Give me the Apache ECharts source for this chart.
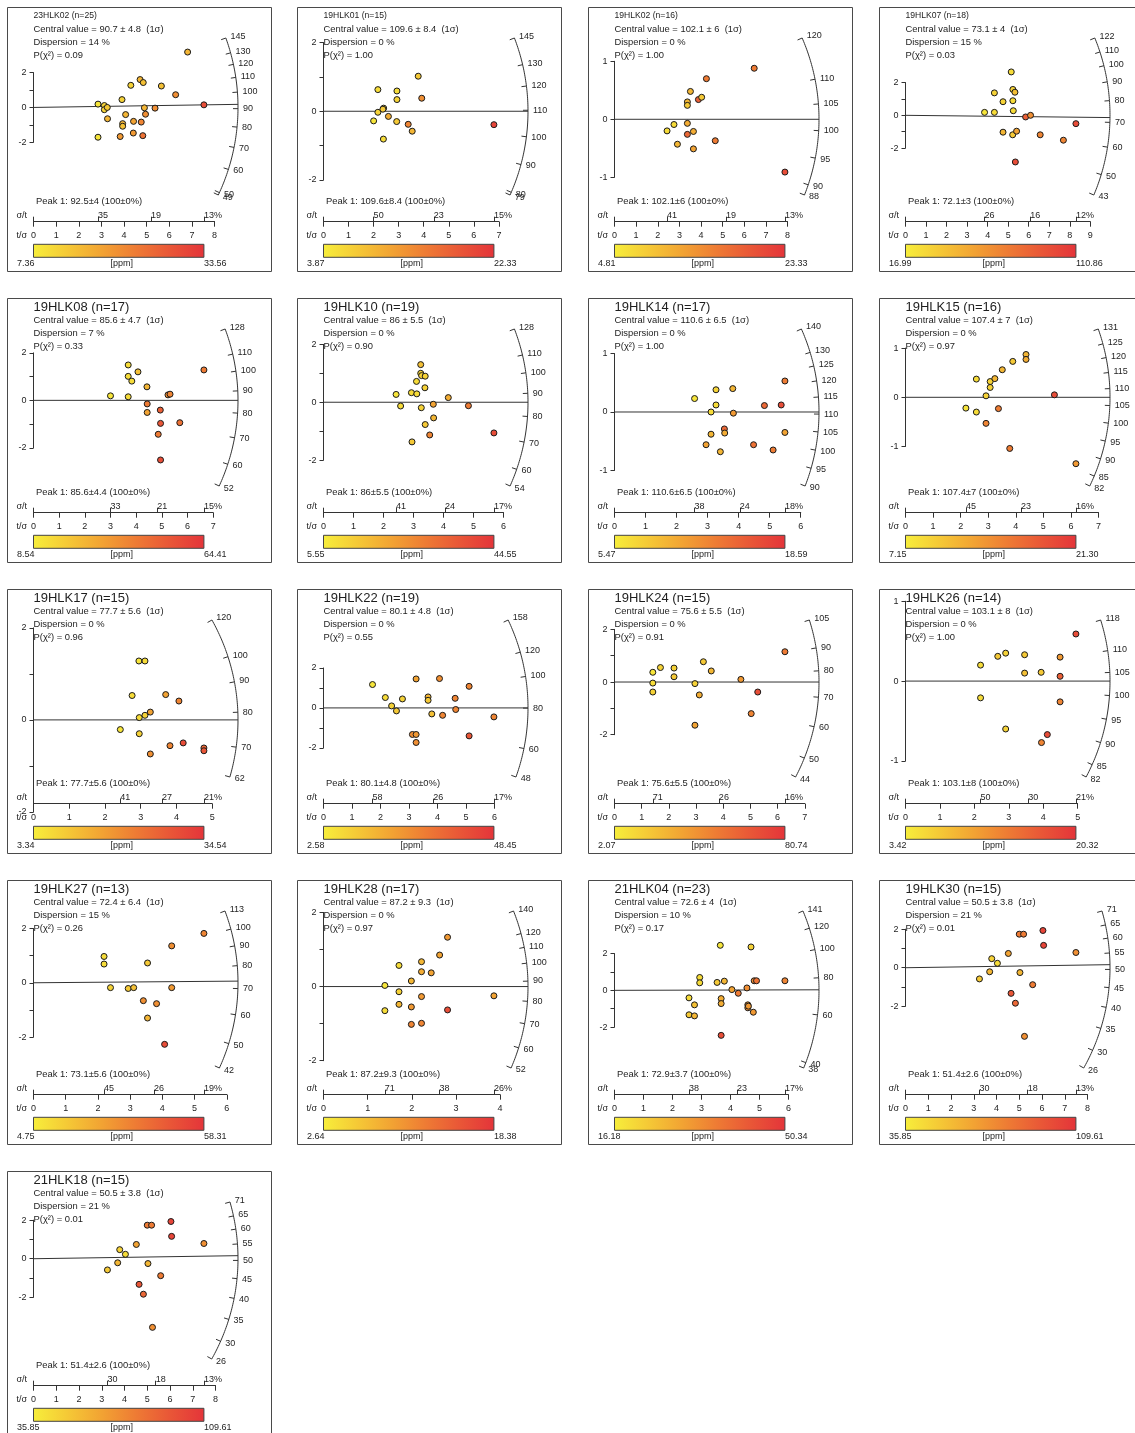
<!DOCTYPE html>
<html>
<head>
<meta charset="utf-8">
<script src="https://cdn.jsdelivr.net/npm/echarts@6/dist/echarts.min.js"></script>
<style>
html,body{margin:0;padding:0;background:#fff;}
#main{width:1135px;height:1433px;}
</style>
</head>
<body>
<div id="main"></div>
<script>
// ---- sample summaries (radial plots of single-grain ages) ----
const sampleNames = ['23HLK02','19HLK01','19HLK02','19HLK07','19HLK08','19HLK10','19HLK14','19HLK15',
  '19HLK17','19HLK22','19HLK24','19HLK26','19HLK27','19HLK28','21HLK04','19HLK30','21HLK18'];
const centralValues = [90.7,109.6,102.1,73.1,85.6,86,110.6,107.4,77.7,80.1,75.6,103.1,72.4,87.2,72.6,50.5,50.5];
const centralErrors = [4.8,8.4,6,4,4.7,5.5,6.5,7,5.6,4.8,5.5,8,6.4,9.3,4,3.8,3.8];
const dispersions = [14,0,0,15,7,0,0,0,0,0,0,0,15,0,10,21,21];
const pChi2 = ['0.09','1.00','1.00','0.03','0.33','0.90','1.00','0.97','0.96','0.55','0.91','1.00','0.26','0.97','0.17','0.01','0.01'];
const peakValues = [92.5,109.6,102.1,72.1,85.6,86,110.6,107.4,77.7,80.1,75.6,103.1,73.1,87.2,72.9,51.4,51.4];
const peakErrors = [4,8.4,6,3,4.4,5.5,6.5,7,5.6,4.8,5.5,8,5.6,9.3,3.7,2.6,2.6];

// age scale labels along the radial arc (first = upper end, last = lower end)
const arcTicks = [
  [145,130,120,110,100,90,80,70,60,50,49],
  [145,130,120,110,100,90,80,79],
  [120,110,105,100,95,90,88],
  [122,110,100,90,80,70,60,50,43],
  [128,110,100,90,80,70,60,52],
  [128,110,100,90,80,70,60,54],
  [140,130,125,120,115,110,105,100,95,90],
  [131,125,120,115,110,105,100,95,90,85,82],
  [120,100,90,80,70,62],
  [158,120,100,80,60,48],
  [105,90,80,70,60,50,44],
  [118,110,105,100,95,90,85,82],
  [113,100,90,80,70,60,50,42],
  [140,120,110,100,90,80,70,60,52],
  [141,120,100,80,60,40,38],
  [71,65,60,55,50,45,40,35,30,26],
  [71,65,60,55,50,45,40,35,30,26]
];
// relative error (%) labels at the lowest, middle and highest precision
const sigmaTickLabels = [
  ['35','19','13'],['50','23','15'],['41','19','13'],['26','16','12'],
  ['33','21','15'],['41','24','17'],['38','24','18'],['45','23','16'],
  ['41','27','21'],['58','26','17'],['71','26','16'],['50','30','21'],
  ['45','26','19'],['71','38','26'],['38','23','17'],['30','18','13'],['30','18','13']
];
const yAxisLimits = [2,2,1,2,2,2,1,1,2,2,2,1,2,2,2,2,2];
const ppmMin = ['7.36','3.87','4.81','16.99','8.54','5.55','5.47','7.15','3.34','2.58','2.07','3.42','4.75','2.64','16.18','35.85','35.85'];
const ppmMax = ['33.56','22.33','23.33','110.86','64.41','44.55','18.59','21.30','34.54','48.45','80.74','20.32','58.31','18.38','50.34','109.61','109.61'];

// grains: [t/sigma, standardised estimate, U (ppm)]
const grains23HLK02 = [[2.85,0.19,8.7],[2.85,-1.71,8.7],[3.13,0.11,11.3],[3.13,-0.13,11.3],[3.26,0.0,12.6],[3.27,-0.65,15.2],[3.91,0.45,11.3],[3.94,-0.93,15.2],[3.94,-1.08,13.9],[3.83,-1.67,19.2],[4.07,-0.41,15.2],[4.30,1.27,11.3],[4.42,-0.80,17.8],[4.41,-1.47,19.2],[4.71,1.60,15.2],[4.85,1.43,13.9],[4.76,-0.84,21.8],[4.83,-1.62,24.4],[4.90,-0.02,15.2],[4.95,-0.39,20.5],[5.37,-0.04,20.5],[5.65,1.23,13.9],[6.28,0.73,20.5],[6.81,3.18,15.2],[7.53,0.15,29.6]];
const grains19HLK01 = [[2.0,-0.28,4.8],[2.17,0.63,5.7],[2.17,-0.03,6.6],[2.40,0.09,6.6],[2.37,0.06,7.6],[2.39,-0.81,5.7],[2.59,-0.15,10.3],[2.93,0.59,5.7],[2.93,0.34,6.6],[2.92,-0.30,7.6],[3.38,-0.38,14.0],[3.54,-0.58,9.4],[3.78,1.02,7.6],[3.92,0.38,13.1],[6.80,-0.39,20.5]];
const grains19HLK02 = [[2.43,-0.20,6.7],[2.75,-0.09,6.7],[2.91,-0.43,10.4],[3.37,-0.07,11.3],[3.37,0.30,10.4],[3.37,0.24,8.5],[3.51,0.48,10.4],[3.37,-0.26,17.8],[3.65,-0.21,11.3],[3.65,-0.51,12.2],[3.88,0.34,18.7],[4.03,0.38,8.5],[4.25,0.70,15.9],[4.66,-0.37,15.9],[6.46,0.88,15.9],[7.88,-0.91,20.6]];
const grains19HLK07 = [[3.85,0.18,21.7],[4.33,0.18,26.4],[4.33,1.37,31.1],[4.75,0.83,31.1],[4.75,-1.03,45.2],[5.15,2.65,26.4],[5.23,1.58,31.1],[5.33,1.41,40.5],[5.23,0.89,26.4],[5.25,0.28,26.4],[5.22,-1.19,35.8],[5.41,-0.97,54.5],[5.35,-2.85,96.8],[5.85,-0.10,87.4],[6.09,0.0,63.9],[6.56,-1.19,68.6],[7.69,-1.52,68.6],[8.30,-0.51,96.8]];
const grains19HLK08 = [[3.0,0.19,11.3],[3.69,1.49,14.1],[3.69,1.01,14.1],[3.83,0.81,14.1],[3.69,0.15,14.1],[4.07,1.20,22.5],[4.42,0.57,25.3],[4.43,-0.15,42.1],[4.43,-0.51,30.9],[4.94,-0.41,50.4],[4.95,-0.97,53.2],[4.86,-1.43,42.1],[4.95,-2.51,56.0],[5.24,0.23,36.5],[5.32,0.26,39.3],[5.70,-0.94,44.9],[6.64,1.28,42.1]];
const grains19HLK10 = [[2.42,0.27,7.5],[2.57,-0.13,9.5],[2.93,0.33,9.5],[2.95,-1.37,13.4],[3.10,0.72,9.5],[3.11,0.29,9.5],[3.24,1.30,15.3],[3.24,1.00,11.4],[3.27,0.92,11.4],[3.39,0.90,11.4],[3.26,-0.19,11.4],[3.38,0.50,11.4],[3.39,-0.77,13.4],[3.54,-1.13,27.0],[3.66,-0.07,21.2],[3.67,-0.54,17.3],[4.16,0.16,19.2],[4.83,-0.12,29.0],[5.68,-1.06,38.7]];
const grains19HLK14 = [[2.58,0.23,6.1],[2.95,-0.56,10.7],[3.11,-0.38,9.4],[3.11,0.00,6.8],[3.27,0.38,7.4],[3.27,0.12,6.8],[3.41,-0.68,9.4],[3.54,-0.29,14.7],[3.55,-0.36,10.1],[3.81,0.40,9.4],[3.83,-0.02,11.4],[4.48,-0.56,14.0],[4.83,0.11,14.7],[5.11,-0.65,13.3],[5.37,0.12,16.6],[5.49,0.53,13.3],[5.49,-0.35,10.7]];
const grains19HLK15 = [[2.19,-0.22,7.9],[2.57,0.37,8.6],[2.57,-0.30,8.6],[2.92,0.03,9.3],[2.92,-0.53,14.9],[3.07,0.32,9.3],[3.07,0.20,9.3],[3.24,0.38,11.4],[3.37,-0.23,15.6],[3.51,0.56,11.4],[3.78,-1.04,15.6],[3.89,0.73,10.0],[4.37,0.87,11.4],[4.37,0.77,12.1],[5.40,0.05,19.2],[6.18,-1.35,13.5]];
const grains19HLK17 = [[2.43,-0.21,4.9],[2.76,0.53,6.5],[2.95,1.28,4.9],[3.12,1.28,6.5],[2.96,0.05,6.5],[2.96,-0.30,8.0],[3.12,0.10,8.0],[3.27,0.17,15.8],[3.27,-0.74,18.9],[3.70,0.55,15.8],[3.82,-0.56,20.5],[4.07,0.41,20.5],[4.19,-0.50,29.9],[4.77,-0.61,25.2],[4.77,-0.67,28.3]];
const grains19HLK22 = [[1.72,1.17,4.9],[2.17,0.52,7.2],[2.39,0.10,9.5],[2.56,-0.15,11.8],[2.77,0.45,9.5],[3.12,-1.33,25.5],[3.25,-1.33,23.2],[3.25,-1.73,25.5],[3.25,1.45,20.9],[3.67,0.55,16.3],[3.67,0.38,11.8],[3.80,-0.30,14.0],[4.07,1.47,25.5],[4.18,-0.37,27.8],[4.62,0.48,27.8],[4.64,-0.08,27.8],[5.11,1.08,27.8],[5.11,-1.40,39.3],[5.98,-0.45,27.8]];
const grains19HLK24 = [[1.41,0.37,6.0],[1.41,-0.04,9.9],[1.41,-0.38,13.9],[1.69,0.55,13.9],[2.19,0.53,13.9],[2.19,0.20,17.8],[2.96,-0.06,13.9],[2.96,-1.64,33.5],[3.12,-0.49,29.6],[3.27,0.77,17.8],[3.56,0.42,25.7],[4.65,0.10,37.5],[5.03,-1.20,45.3],[5.27,-0.38,68.9],[6.27,1.15,49.3]];
const grains19HLK26 = [[2.18,0.20,5.1],[2.18,-0.21,5.1],[2.68,0.31,6.8],[2.91,0.35,6.0],[2.91,-0.60,6.0],[3.46,0.33,6.8],[3.46,0.10,7.6],[3.94,0.11,6.8],[3.95,-0.77,12.7],[4.12,-0.67,17.8],[4.49,0.30,11.0],[4.49,0.06,16.1],[4.49,-0.26,12.7],[4.95,0.59,17.8]];
const grains19HLK27 = [[2.19,0.97,10.1],[2.19,0.69,10.1],[2.39,-0.18,12.8],[2.94,-0.21,15.5],[3.11,-0.18,18.1],[3.41,-0.66,31.5],[3.54,0.73,15.5],[3.54,-1.30,20.8],[3.82,-0.77,31.5],[4.07,-2.27,50.3],[4.29,1.36,31.5],[4.29,-0.18,28.9],[5.29,1.82,34.2]];
const grains19HLK28 = [[1.39,0.03,3.4],[1.39,-0.65,4.2],[1.71,0.57,4.2],[1.71,-0.14,5.0],[1.71,-0.48,7.4],[1.99,0.15,7.4],[1.99,-0.55,9.7],[1.99,-1.02,11.3],[2.22,0.67,7.4],[2.22,0.40,8.2],[2.22,-0.27,9.7],[2.22,-0.99,11.3],[2.44,0.37,8.9],[2.63,0.85,8.9],[2.81,1.33,9.7],[2.81,-0.63,16.0],[3.86,-0.25,8.9]];
const grains21HLK04 = [[2.57,-0.41,19.6],[2.57,-1.33,23.0],[2.76,-0.79,24.7],[2.76,-1.39,26.4],[2.94,0.70,19.6],[2.94,0.41,19.6],[3.54,0.43,23.0],[3.65,2.45,17.9],[3.68,-0.45,28.1],[3.68,-0.72,28.1],[3.68,-2.45,45.2],[3.79,0.50,26.4],[4.05,0.04,29.8],[4.27,-0.16,36.7],[4.57,0.13,33.3],[4.60,-0.79,31.6],[4.60,-0.95,33.3],[4.62,-0.86,31.6],[4.71,2.36,21.3],[4.79,-1.19,31.6],[4.82,0.52,33.3],[4.90,0.52,38.4],[5.88,0.52,35.0]];
const grains19HLK30 = [[3.25,-0.58,50.6],[3.70,-0.21,58.0],[3.79,0.47,46.9],[4.04,0.23,43.2],[4.52,0.74,65.4],[4.64,-1.33,94.9],[4.83,-1.84,87.5],[5.00,1.74,80.1],[5.19,1.74,80.1],[5.03,-0.25,58.0],[5.23,-3.56,72.7],[5.59,-0.88,80.1],[6.04,1.93,102.2],[6.07,1.16,102.2],[7.49,0.79,72.7]];
const grains21HLK18 = [[3.25,-0.58,50.6],[3.70,-0.21,58.0],[3.79,0.47,46.9],[4.04,0.23,43.2],[4.52,0.74,65.4],[4.64,-1.33,94.9],[4.83,-1.84,87.5],[5.00,1.74,80.1],[5.19,1.74,80.1],[5.03,-0.25,58.0],[5.23,-3.56,72.7],[5.59,-0.88,80.1],[6.04,1.93,102.2],[6.07,1.16,102.2],[7.49,0.79,72.7]];
const grains = [grains23HLK02,grains19HLK01,grains19HLK02,grains19HLK07,grains19HLK08,grains19HLK10,grains19HLK14,grains19HLK15,
  grains19HLK17,grains19HLK22,grains19HLK24,grains19HLK26,grains19HLK27,grains19HLK28,grains21HLK04,grains19HLK30,grains21HLK18];

// ---- styling & panel geometry ----
const FONT = '"Liberation Sans", Arial, Helvetica, sans-serif';
const INK = '#1e1e1e';
const STROKE = '#333333';
const RAMP = ['#f7ee3b', '#f5c936', '#f2a333', '#ee7b34', '#e95637', '#e4343a'];
const COL_X = [7, 297, 588, 879];
const ROW_Y = [7, 298, 589, 880, 1171];
const BOX = 264;          // panel frame size
const X0 = 26.5;          // origin of the radial plot inside a panel
const ARC_R = 204.5;      // radius of the age arc (px)
const SPAN = ARC_R / 1.2; // pixel length of the largest precision
const PLOT_TOP = 31, PLOT_H = 157;
const AXIS_Y = 214.7;     // precision axis line
const CB_Y = 237.3, CB_H = 13;

const chart = echarts.init(document.getElementById('main'), null, { renderer: 'canvas' });

const grid = [], xAxis = [], yAxis = [], series = [], visualMap = [], graphic = [];
const frac = u => u / Math.sqrt(1 + u * u);

function label(x, y, str, size, align) {
  return {
    type: 'text', x: x, y: y, silent: true, z: 10,
    style: {
      text: str, fill: INK, font: size + 'px ' + FONT,
      textAlign: align || 'left', textVerticalAlign: 'middle',
      align: align || 'left', verticalAlign: 'middle'
    }
  };
}

sampleNames.forEach((name, i) => {
  const bx = COL_X[i % 4];
  const by = ROW_Y[Math.floor(i / 4)];
  const pts = grains[i];
  const xs = pts.map(p => p[0]);
  const xmin = Math.min(...xs), xmax = Math.max(...xs), xmid = (xmin + xmax) / 2;
  const sx = SPAN / xmax;
  const xTop = Math.ceil(xmax);
  const ticks = arcTicks[i];
  const z0 = centralValues[i];
  const zHi = Math.max(...ticks), zLo = Math.min(...ticks);
  const a = Math.log(zHi / z0), b = Math.log(z0 / zLo);

  // vertical scale chosen so the whole age arc fits the plotting height
  let lo = 1e-3, hi = 1e3;
  for (let it = 0; it < 80; it++) {
    const m = Math.sqrt(lo * hi);
    if (ARC_R * (frac(a * m) + frac(b * m)) > PLOT_H) hi = m; else lo = m;
  }
  const k = Math.sqrt(lo * hi);
  const sy = k * sx;
  const oy = by + PLOT_TOP + ARC_R * frac(a * k);
  const yl = yAxisLimits[i];

  const gMain = grid.length;
  grid.push({ left: bx + X0, top: oy - yl * sy, width: xTop * sx, height: 2 * yl * sy,
              containLabel: false, outerBoundsMode: 'none' });
  const gStrip = grid.length;
  grid.push({ left: bx + X0, top: by + AXIS_Y - 1, width: xTop * sx, height: 1,
              containLabel: false, outerBoundsMode: 'none' });

  const xMain = xAxis.length;
  xAxis.push({ gridIndex: gMain, type: 'value', min: 0, max: xTop, show: false });
  // t/sigma axis
  xAxis.push({
    gridIndex: gStrip, type: 'value', min: 0, max: xTop, interval: 1, position: 'bottom',
    axisLine: { show: true, lineStyle: { color: STROKE, width: 1 } },
    axisTick: { show: true, length: 5, lineStyle: { color: STROKE } },
    axisLabel: { fontSize: 9, color: INK, margin: 9.5, fontFamily: FONT },
    splitLine: { show: false }
  });
  // sigma/t axis (relative error, %)
  const sigVals = [xmin, xmid, xmax];
  const sigLab = sigmaTickLabels[i];
  xAxis.push({
    gridIndex: gStrip, type: 'value', min: 0, max: xTop, position: 'top', offset: -1,
    axisLine: { show: false },
    axisTick: { show: true, length: 5, lineStyle: { color: STROKE }, customValues: [0, xmin, xmid, xmax] },
    axisLabel: {
      show: true, fontSize: 9, color: INK, margin: 1.5, align: 'left', fontFamily: FONT,
      customValues: sigVals,
      formatter: v => {
        let j = 0, best = Infinity;
        sigVals.forEach((t, q) => { const d = Math.abs(t - v); if (d < best) { best = d; j = q; } });
        return sigLab[j] + (j === 2 ? '%' : '');
      }
    },
    splitLine: { show: false }
  });

  const yMain = yAxis.length;
  yAxis.push({
    gridIndex: gMain, type: 'value', min: -yl, max: yl, interval: 1,
    axisLine: { show: true, lineStyle: { color: STROKE, width: 1 } },
    axisTick: { show: true, length: 4, lineStyle: { color: STROKE } },
    axisLabel: { fontSize: 9, color: INK, margin: 7, fontFamily: FONT,
                 formatter: v => (yl === 1 || v % 2 === 0) ? String(v) : '' },
    splitLine: { show: false }
  });
  yAxis.push({ gridIndex: gStrip, type: 'value', min: 0, max: 1, show: false });

  // age arc, its scale and the line to the peak age
  const peak = peakValues[i];
  series.push({
    type: 'custom', xAxisIndex: xMain, yAxisIndex: yMain, clip: false, silent: true, z: 2,
    data: [[0, 0]],
    renderItem: (params, api) => {
      const o = api.coord([0, 0]);
      const px = api.coord([1, 0])[0] - o[0];
      const py = o[1] - api.coord([0, 1])[1];
      const R = api.coord([1.2 * xmax, 0])[0] - o[0];
      const ang = z => Math.atan(Math.log(z / z0) * py / px);
      const at = (th, r) => [o[0] + r * Math.cos(th), o[1] - r * Math.sin(th)];
      const kids = [];
      const t1 = ang(zLo), t2 = ang(zHi);
      const arc = [];
      for (let j = 0; j <= 80; j++) arc.push(at(t1 + (t2 - t1) * j / 80, R));
      kids.push({ type: 'polyline', shape: { points: arc }, style: { stroke: STROKE, lineWidth: 1, fill: null } });
      ticks.forEach(z => {
        const th = ang(z);
        const p1 = at(th, R - 5), p2 = at(th, R);
        kids.push({ type: 'line', shape: { x1: p1[0], y1: p1[1], x2: p2[0], y2: p2[1] },
                    style: { stroke: STROKE, lineWidth: 1 } });
        const lp = at(th, R + 5);
        kids.push({ type: 'text', x: lp[0], y: lp[1],
                    style: { text: String(z), fill: INK, font: '9px ' + FONT,
                             align: 'left', verticalAlign: 'middle',
                             textAlign: 'left', textVerticalAlign: 'middle' } });
      });
      const tp = at(ang(peak), R);
      kids.push({ type: 'line', shape: { x1: o[0], y1: o[1], x2: tp[0], y2: tp[1] },
                  style: { stroke: STROKE, lineWidth: 1 } });
      return { type: 'group', children: kids };
    }
  });

  const sIdx = series.length;
  series.push({
    type: 'scatter', name: name, xAxisIndex: xMain, yAxisIndex: yMain, clip: false, z: 3,
    symbol: 'circle', symbolSize: 6, data: pts,
    itemStyle: { borderColor: '#1a1a1a', borderWidth: 1, opacity: 1 }
  });
  visualMap.push({
    type: 'continuous', show: false, seriesIndex: sIdx, dimension: 2,
    min: parseFloat(ppmMin[i]), max: parseFloat(ppmMax[i]),
    inRange: { color: RAMP }
  });

  // frame and annotations
  graphic.push({ type: 'rect', silent: true, z: 0,
    shape: { x: bx + 0.5, y: by + 0.5, width: BOX, height: BOX },
    style: { fill: 'none', stroke: '#4a4a4a', lineWidth: 1 } });
  graphic.push(label(bx + X0, by + 9, name + ' (n=' + pts.length + ')', i < 4 ? 8.6 : 13));
  graphic.push(label(bx + X0, by + 22.3, 'Central value = ' + z0 + ' \u00b1 ' + centralErrors[i] + '  (1\u03c3)', 9.4));
  graphic.push(label(bx + X0, by + 35.7, 'Dispersion = ' + dispersions[i] + ' %', 9.4));
  graphic.push(label(bx + X0, by + 48.3, 'P(\u03c7\u00b2) = ' + pChi2[i], 9.4));
  graphic.push(label(bx + 29, by + 194.7, 'Peak 1: ' + peak + '\u00b1' + peakErrors[i] + ' (100\u00b10%)', 9.4));
  graphic.push(label(bx + 9.5, by + 209, '\u03c3/t', 9));
  graphic.push(label(bx + 9.5, by + 228.7, 't/\u03c3', 9));

  // colour bar for U concentration
  const stops = RAMP.map((c, q) => ({ offset: q / (RAMP.length - 1), color: c }));
  graphic.push({ type: 'rect', silent: true, z: 1,
    shape: { x: bx + X0, y: by + CB_Y, width: SPAN, height: CB_H },
    style: { fill: new echarts.graphic.LinearGradient(0, 0, 1, 0, stops), stroke: '#444', lineWidth: 1 } });
  graphic.push(label(bx + 10, by + 256.3, ppmMin[i], 9));
  graphic.push(label(bx + X0 + SPAN / 2 + 3, by + 256.3, '[ppm]', 9, 'center'));
  graphic.push(label(bx + X0 + SPAN, by + 256.3, ppmMax[i], 9));
});

chart.setOption({
  animation: false,
  backgroundColor: '#ffffff',
  textStyle: { fontFamily: FONT },
  grid: grid, xAxis: xAxis, yAxis: yAxis,
  visualMap: visualMap,
  series: series,
  graphic: { elements: graphic }
});
</script>
</body>
</html>
